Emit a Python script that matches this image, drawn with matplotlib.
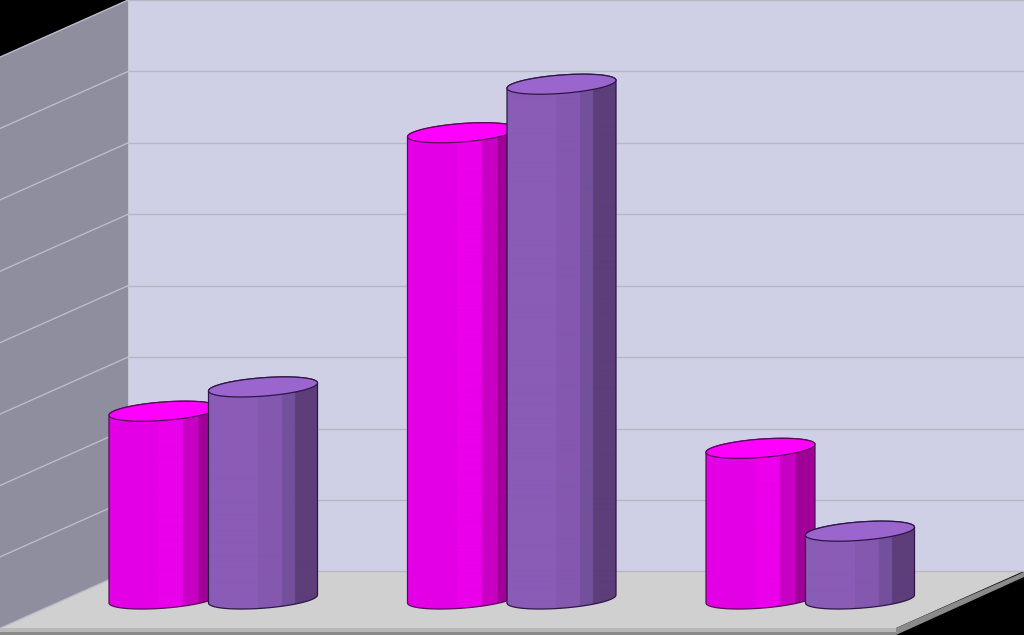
import numpy as np
import matplotlib
matplotlib.use('Agg')
import matplotlib.pyplot as plt
from matplotlib.colors import to_rgb
from matplotlib.patches import Polygon

# the chart has no visible labels, values are in gridline units
groups = [0, 1, 2]
series_a = [2.63, 6.53, 2.11]
series_b = [2.97, 7.21, 0.95]
grid_levels = list(range(9))

UNIT = 71.4       # pixels per value unit
BASE = 599.0      # pixel row of value 0 at the bar centre
A_W = 54.5        # half bar width
B_W = 9.2         # ellipse half height
TILT = 4.0        # rise of ellipse end, pixels


def Y(px):
    # pixel row to value units
    return (BASE - px) / UNIT


def ellipse_xy(cx, cy_px, t):
    c = np.cos(t)
    s = np.sin(t)
    x = cx + A_W * c
    y = cy_px - TILT * c + B_W * s
    return x, Y(y)


def shade(colors, edges):
    pos = (np.arange(218) + 0.5) / 218
    idx = np.searchsorted(edges, pos)
    return np.array([[to_rgb(colors[i]) for i in idx]])


def cylinder(ax, cx, value, colors, edges, top_color, edge):
    top_px = BASE - value * UNIT
    t_low = np.linspace(np.pi, 0, 60)    # bottom rim, front side
    t_up = np.linspace(0, np.pi, 60)     # top rim, back side
    xb, yb = ellipse_xy(cx, BASE, t_low)
    xt, yt = ellipse_xy(cx, top_px, -t_up)
    body = np.column_stack([np.r_[xb, xt], np.r_[yb, yt]])
    clip = Polygon(body, closed=True, transform=ax.transData, fc='none', ec='none')
    ax.add_patch(clip)
    im = ax.imshow(shade(colors, edges), extent=(cx - A_W, cx + A_W, Y(BASE + 12), Y(top_px - 12)),
                   aspect='auto', interpolation='bilinear', zorder=3)
    im.set_clip_path(clip)
    # outline of the body
    ax.add_patch(Polygon(body, closed=True, fc='none', ec=edge, lw=0.9, zorder=3))
    t = np.linspace(0, 2 * np.pi, 120)
    xe, ye = ellipse_xy(cx, top_px, t)
    ax.add_patch(Polygon(np.column_stack([xe, ye]), closed=True, fc=top_color, ec=edge, lw=0.9, zorder=3))


fig = plt.figure(figsize=(10.24, 6.35), dpi=100, facecolor='black')
ax = fig.add_axes([0, 0, 1, 1])
ax.axis('off')

# walls and floor
ax.add_patch(Polygon([(128, Y(0)), (1024, Y(0)), (1024, Y(571)), (128, Y(571))], fc='#cfd0e6', ec='none'))
ax.add_patch(Polygon([(0, Y(57)), (128, Y(0)), (128, Y(571)), (0, Y(628))], fc='#8e8e9e', ec='none'))
ax.add_patch(Polygon([(128, Y(571)), (1024, Y(571)), (896, Y(628)), (0, Y(628))], fc='#d0d0d0', ec='none'))
ax.add_patch(Polygon([(0, Y(628)), (896, Y(628)), (896, Y(635)), (0, Y(635))], fc='#b8b8b8', ec='none'))
ax.add_patch(Polygon([(0, Y(632)), (896, Y(632)), (896, Y(635)), (0, Y(635))], fc='#8a8a8a', ec='none'))
ax.add_patch(Polygon([(896, Y(628)), (1024, Y(572)), (1024, Y(577)), (896, Y(635))], fc='#8a8a8a', ec='none'))

# gridlines, back wall then side wall
for k in grid_levels:
    row = 0.1 + k * UNIT
    ax.plot([128, 1024], [Y(row), Y(row)], color='#b8b8c2', lw=1.0, zorder=1)
    ax.plot([0, 128], [Y(row + 57), Y(row)], color='#bcbcca', lw=1.0, zorder=1)
ax.plot([128, 128], [Y(0), Y(571)], color='#c4c4d2', lw=0.8, zorder=1)

pink_cols = ['#e400e4', '#ea00ea', '#c800c4', '#a00098']
pink_edges = [0.45, 0.68, 0.82, 1.0]
purple_cols = ['#8a5cb6', '#8558b0', '#74509c', '#5d3e7a']
purple_edges = [0.45, 0.67, 0.79, 1.0]

for g in groups:
    left = 109 + g * 298.5
    cylinder(ax, left + A_W, series_a[g], pink_cols, pink_edges, '#ff00ff', '#5a0a5a')
    cylinder(ax, left + 99.5 + A_W, series_b[g], purple_cols, purple_edges, '#9a66ce', '#2e1648')

ax.set_xlim(0, 1024)
ax.set_ylim(Y(635), Y(0))
fig.savefig('out.png', dpi=100, facecolor='black')
